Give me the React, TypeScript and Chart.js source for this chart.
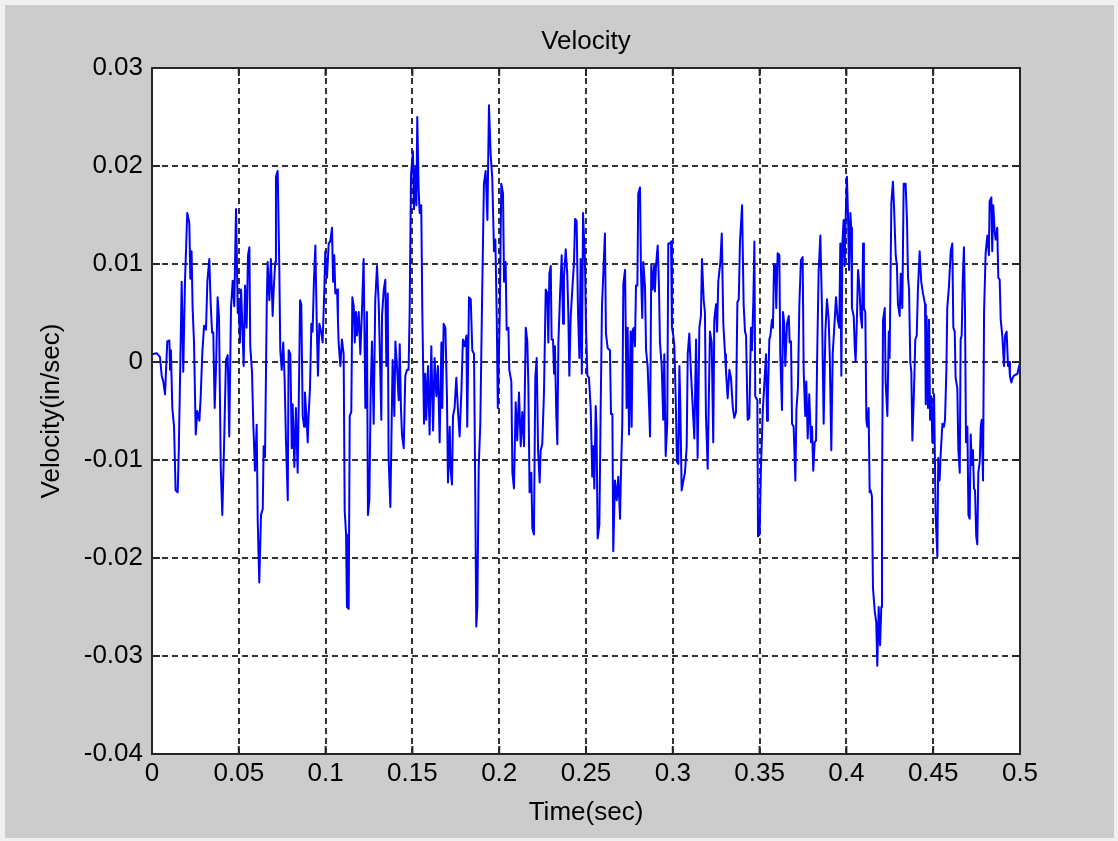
import React, { useEffect, useRef } from "react";
import { Chart, registerables } from "chart.js";

Chart.register(...registerables);

const FONT = "'Liberation Sans', Arial, Helvetica, sans-serif";

const chartTitle = "Velocity";
const xAxisTitle = "Time(sec)";
const yAxisTitle = "Velocity(in/sec)";

const xTickValues = [0, 0.05, 0.1, 0.15, 0.2, 0.25, 0.3, 0.35, 0.4, 0.45, 0.5];
const xTickLabels = ["0", "0.05", "0.1", "0.15", "0.2", "0.25", "0.3", "0.35", "0.4", "0.45", "0.5"];
const yTickValues = [-0.04, -0.03, -0.02, -0.01, 0, 0.01, 0.02, 0.03];
const yTickLabels = ["-0.04", "-0.03", "-0.02", "-0.01", "0", "0.01", "0.02", "0.03"];

// time (s) and velocity (in/sec), segment by segment
const timeA = [0, 0.0027, 0.0046, 0.0056, 0.0065, 0.0075, 0.0088, 0.0100, 0.0104, 0.0109, 0.0117, 0.0127, 0.0136, 0.0148, 0.0154, 0.0161, 0.0171, 0.0180, 0.0190, 0.0203, 0.0215, 0.0221, 0.0228, 0.0234, 0.0242, 0.0252, 0.0261, 0.0273, 0.0280, 0.0290, 0.0300, 0.0311, 0.0319, 0.0330, 0.0338, 0.0346, 0.0353, 0.0361, 0.0369, 0.0378, 0.0386, 0.0396, 0.0405, 0.0415, 0.0426, 0.0436, 0.0445, 0.0455, 0.0465, 0.0474, 0.0484, 0.0494];
const velA = [0.0008, 0.0009, 0.0005, -0.0014, -0.0020, -0.0033, 0.0021, 0.0022, -0.0008, 0.0012, -0.0047, -0.0066, -0.0131, -0.0133, -0.0092, -0.0023, 0.0082, -0.0010, 0.0082, 0.0152, 0.0142, 0.0085, 0.0113, 0.0055, 0.0020, -0.0074, -0.0050, -0.0060, -0.0037, 0.0010, 0.0037, 0.0033, 0.0082, 0.0105, 0.0060, 0.0030, 0.0030, -0.0047, -0.0005, 0.0066, 0.0046, -0.0107, -0.0156, -0.0086, 0.0002, 0.0007, -0.0076, 0.0055, 0.0083, 0.0057, 0.0156, 0.0050];

const timeB = [0.0499, 0.0507, 0.0513, 0.0522, 0.0528, 0.0536, 0.0545, 0.0553, 0.0561, 0.0566, 0.0576, 0.0584, 0.0593, 0.0603, 0.0609, 0.0618, 0.0628, 0.0638, 0.0643, 0.0651, 0.0661, 0.0666, 0.0676, 0.0685, 0.0695, 0.0701, 0.0710, 0.0714, 0.0724, 0.0733, 0.0739, 0.0747, 0.0756, 0.0764, 0.0772, 0.0782, 0.0787, 0.0797, 0.0805, 0.0810, 0.0820, 0.0829, 0.0839, 0.0845, 0.0853, 0.0860, 0.0868, 0.0876, 0.0881, 0.0891, 0.0897, 0.0902, 0.0910, 0.0918, 0.0925, 0.0933, 0.0941, 0.0949, 0.0956, 0.0964, 0.0974, 0.0983, 0.0993];
const velB = [0.0059, 0.0020, 0.0074, 0.0030, -0.0004, 0.0078, 0.0035, 0.0109, 0.0117, 0.0016, -0.0010, -0.0066, -0.0111, -0.0064, -0.0162, -0.0225, -0.0156, -0.0150, -0.0086, -0.0097, 0.0059, 0.0102, 0.0063, 0.0105, 0.0047, 0.0074, 0.0102, 0.0189, 0.0195, 0.0100, 0.0012, -0.0008, 0.0020, -0.0018, -0.0082, -0.0141, 0.0012, 0.0008, -0.0088, -0.0043, -0.0107, -0.0047, -0.0113, -0.0047, 0.0063, 0.0059, -0.0055, -0.0066, -0.0031, -0.0059, -0.0082, -0.0055, -0.0027, 0.0039, 0.0031, 0.0084, 0.0119, 0.0039, -0.0014, 0.0039, 0.0031, 0.0020, 0.0076];

const timeC = [0.0998, 0.1008, 0.1018, 0.1027, 0.1037, 0.1043, 0.1050, 0.1056, 0.1066, 0.1071, 0.1075, 0.1085, 0.1094, 0.1104, 0.1110, 0.1118, 0.1123, 0.1133, 0.1139, 0.1148, 0.1154, 0.1162, 0.1168, 0.1175, 0.1181, 0.1191, 0.1200, 0.1210, 0.1219, 0.1229, 0.1238, 0.1244, 0.1252, 0.1260, 0.1267, 0.1277, 0.1286, 0.1296, 0.1306, 0.1315, 0.1321, 0.1325, 0.1335, 0.1344, 0.1350, 0.1358, 0.1363, 0.1373, 0.1379, 0.1386, 0.1396, 0.1402, 0.1411, 0.1421, 0.1427, 0.1434, 0.1440, 0.1450, 0.1459, 0.1469, 0.1478, 0.1484, 0.1492];
const velC = [0.0113, 0.0086, 0.0121, 0.0123, 0.0137, 0.0082, 0.0109, 0.0070, 0.0074, 0.0043, 0.0020, -0.0004, 0.0023, 0.0008, -0.0152, -0.0176, -0.0250, -0.0252, -0.0055, -0.0051, 0.0066, 0.0057, 0.0020, 0.0051, 0.0027, 0.0051, 0.0008, 0.0055, 0.0105, -0.0047, 0.0051, -0.0156, -0.0141, -0.0027, 0.0021, -0.0063, 0.0063, 0.0098, 0.0059, -0.0010, -0.0059, 0.0047, 0.0074, 0.0084, -0.0004, 0.0070, -0.0098, -0.0148, -0.0080, 0.0002, -0.0055, 0.0021, -0.0004, -0.0039, 0.0018, -0.0047, -0.0074, -0.0088, -0.0014, -0.0008, -0.0008, 0.0049, 0.0191];

const timeD = [0.1503, 0.1509, 0.1517, 0.1523, 0.1528, 0.1536, 0.1542, 0.1551, 0.1557, 0.1567, 0.1574, 0.1580, 0.1590, 0.1599, 0.1609, 0.1619, 0.1628, 0.1638, 0.1647, 0.1657, 0.1667, 0.1672, 0.1680, 0.1690, 0.1699, 0.1705, 0.1715, 0.1720, 0.1728, 0.1734, 0.1743, 0.1753, 0.1763, 0.1772, 0.1782, 0.1791, 0.1801, 0.1811, 0.1816, 0.1826, 0.1836, 0.1845, 0.1855, 0.1862, 0.1868, 0.1874, 0.1882, 0.1891, 0.1901, 0.1912, 0.1922, 0.1932, 0.1941, 0.1951, 0.1960, 0.1970, 0.1978, 0.1986, 0.1992];
const velD = [0.0215, 0.0156, 0.0199, 0.0160, 0.0250, 0.0176, 0.0152, 0.0160, 0.0053, -0.0063, -0.0012, -0.0059, -0.0004, -0.0074, 0.0016, -0.0070, 0.0004, -0.0035, -0.0004, -0.0082, 0.0020, -0.0047, 0.0039, 0.0035, -0.0035, -0.0123, -0.0066, -0.0109, -0.0125, -0.0055, -0.0047, -0.0016, -0.0051, -0.0076, -0.0031, 0.0023, 0.0016, 0.0027, -0.0066, 0.0066, 0.0064, 0.0012, 0.0008, -0.0131, -0.0270, -0.0250, -0.0107, -0.0064, 0.0059, 0.0182, 0.0195, 0.0145, 0.0262, 0.0211, 0.0188, 0.0113, 0.0125, 0.0043, -0.0047];

const timeE = [0.2003, 0.2012, 0.2022, 0.2028, 0.2037, 0.2043, 0.2053, 0.2058, 0.2070, 0.2076, 0.2085, 0.2095, 0.2104, 0.2114, 0.2124, 0.2133, 0.2143, 0.2153, 0.2162, 0.2168, 0.2175, 0.2185, 0.2191, 0.2200, 0.2208, 0.2216, 0.2224, 0.2233, 0.2239, 0.2248, 0.2258, 0.2268, 0.2277, 0.2283, 0.2289, 0.2297, 0.2302, 0.2310, 0.2316, 0.2321, 0.2329, 0.2335, 0.2341, 0.2350, 0.2360, 0.2368, 0.2373, 0.2383, 0.2392, 0.2398, 0.2404, 0.2412, 0.2421, 0.2431, 0.2437, 0.2446, 0.2454, 0.2462, 0.2469, 0.2476, 0.2483];
const velE = [0.0047, 0.0182, 0.0172, 0.0082, 0.0102, 0.0033, 0.0035, -0.0008, -0.0020, -0.0113, -0.0129, -0.0041, -0.0080, -0.0031, -0.0086, -0.0051, -0.0086, 0.0035, 0.0021, -0.0023, -0.0133, -0.0113, -0.0170, -0.0176, -0.0016, 0.0004, -0.0090, -0.0123, -0.0090, -0.0084, -0.0031, 0.0074, 0.0070, 0.0020, 0.0090, 0.0098, 0.0023, 0.0023, -0.0012, 0.0016, -0.0055, -0.0084, 0.0020, 0.0066, 0.0109, 0.0039, 0.0086, 0.0115, 0.0090, 0.0051, -0.0014, 0.0047, 0.0074, 0.0102, 0.0146, 0.0144, 0.0051, 0.0004, 0.0105, -0.0012, 0.0152];

const timeF = [0.2494, 0.2500, 0.2508, 0.2517, 0.2527, 0.2536, 0.2542, 0.2548, 0.2556, 0.2561, 0.2567, 0.2577, 0.2584, 0.2592, 0.2600, 0.2609, 0.2615, 0.2625, 0.2638, 0.2644, 0.2652, 0.2657, 0.2667, 0.2677, 0.2686, 0.2696, 0.2702, 0.2709, 0.2715, 0.2725, 0.2734, 0.2740, 0.2748, 0.2757, 0.2763, 0.2769, 0.2776, 0.2782, 0.2788, 0.2796, 0.2801, 0.2811, 0.2817, 0.2824, 0.2830, 0.2840, 0.2846, 0.2855, 0.2863, 0.2869, 0.2876, 0.2884, 0.2892, 0.2897, 0.2903, 0.2913, 0.2920, 0.2926, 0.2936, 0.2945, 0.2951, 0.2959, 0.2968, 0.2974];
const velF = [0.0102, 0.0035, -0.0014, -0.0016, -0.0047, -0.0117, -0.0086, -0.0129, -0.0045, -0.0070, -0.0180, -0.0166, -0.0055, 0.0057, 0.0092, 0.0131, 0.0029, 0.0014, 0.0012, -0.0053, -0.0053, -0.0193, -0.0121, -0.0141, -0.0117, -0.0160, -0.0109, -0.0063, 0.0080, 0.0094, -0.0047, 0.0035, -0.0074, 0.0031, -0.0066, 0.0033, 0.0035, 0.0016, 0.0078, 0.0078, 0.0172, 0.0178, 0.0090, 0.0045, 0.0102, 0.0076, 0.0012, -0.0004, -0.0043, -0.0076, 0.0100, 0.0074, 0.0098, 0.0072, 0.0098, 0.0119, 0.0080, 0.0020, -0.0004, -0.0059, 0.0008, -0.0096, -0.0063, 0.0121];

const timeG = [0.2984, 0.2990, 0.2995, 0.3003, 0.3009, 0.3018, 0.3024, 0.3032, 0.3038, 0.3043, 0.3051, 0.3061, 0.3070, 0.3080, 0.3086, 0.3095, 0.3105, 0.3115, 0.3124, 0.3134, 0.3143, 0.3153, 0.3162, 0.3168, 0.3178, 0.3185, 0.3191, 0.3201, 0.3207, 0.3214, 0.3224, 0.3233, 0.3239, 0.3249, 0.3255, 0.3262, 0.3274, 0.3282, 0.3291, 0.3301, 0.3306, 0.3316, 0.3326, 0.3335, 0.3345, 0.3354, 0.3364, 0.3372, 0.3380, 0.3387, 0.3399, 0.3408, 0.3416, 0.3422, 0.3431, 0.3441, 0.3450, 0.3456, 0.3464, 0.3470, 0.3475];
const velG = [0.0121, 0.0123, 0.0035, 0.0027, 0.0016, -0.0047, -0.0102, -0.0104, -0.0004, -0.0041, -0.0131, -0.0121, -0.0113, -0.0086, 0.0008, 0.0029, -0.0012, -0.0047, -0.0078, 0.0023, -0.0098, 0.0035, 0.0047, 0.0105, 0.0063, 0.0051, -0.0055, -0.0109, -0.0043, 0.0031, 0.0020, -0.0082, 0.0043, 0.0059, 0.0031, 0.0082, 0.0102, 0.0131, 0.0039, 0.0008, -0.0008, -0.0037, -0.0008, -0.0016, -0.0045, -0.0057, -0.0051, 0.0061, 0.0064, 0.0123, 0.0160, 0.0059, 0.0031, 0.0027, -0.0059, -0.0057, 0.0035, 0.0012, 0.0063, 0.0123, -0.0035];

const timeH = [0.3487, 0.3491, 0.3500, 0.3508, 0.3518, 0.3527, 0.3537, 0.3543, 0.3548, 0.3556, 0.3562, 0.3571, 0.3577, 0.3583, 0.3591, 0.3596, 0.3604, 0.3614, 0.3619, 0.3629, 0.3635, 0.3642, 0.3648, 0.3658, 0.3668, 0.3673, 0.3681, 0.3687, 0.3696, 0.3706, 0.3712, 0.3721, 0.3729, 0.3738, 0.3748, 0.3754, 0.3763, 0.3769, 0.3777, 0.3786, 0.3796, 0.3802, 0.3809, 0.3817, 0.3825, 0.3832, 0.3840, 0.3850, 0.3859, 0.3869, 0.3879, 0.3888, 0.3898, 0.3904, 0.3913, 0.3921, 0.3930, 0.3940, 0.3950, 0.3959, 0.3965, 0.3971];
const velH = [-0.0039, -0.0178, -0.0176, -0.0107, -0.0051, -0.0023, 0.0008, -0.0060, -0.0035, 0.0023, 0.0027, 0.0043, 0.0035, 0.0100, 0.0098, 0.0055, 0.0111, 0.0109, 0.0008, -0.0049, 0.0051, 0.0039, -0.0004, 0.0039, 0.0047, 0.0020, 0.0021, -0.0063, -0.0066, -0.0121, -0.0049, -0.0025, 0.0059, 0.0104, 0.0107, -0.0010, -0.0055, -0.0020, -0.0078, -0.0033, -0.0082, -0.0066, -0.0111, -0.0082, -0.0080, 0.0010, 0.0092, 0.0129, 0.0057, -0.0063, 0.0031, 0.0064, 0.0043, 0.0008, -0.0090, 0.0008, 0.0035, 0.0066, 0.0043, 0.0035, 0.0121, -0.0014];

const timeI = [0.3977, 0.3984, 0.3990, 0.3996, 0.4003, 0.4009, 0.4015, 0.4023, 0.4028, 0.4032, 0.4042, 0.4048, 0.4053, 0.4061, 0.4067, 0.4076, 0.4082, 0.4090, 0.4096, 0.4101, 0.4109, 0.4115, 0.4120, 0.4128, 0.4134, 0.4140, 0.4147, 0.4153, 0.4163, 0.4172, 0.4178, 0.4186, 0.4194, 0.4201, 0.4205, 0.4211, 0.4221, 0.4226, 0.4236, 0.4244, 0.4249, 0.4259, 0.4268, 0.4274, 0.4284, 0.4291, 0.4297, 0.4307, 0.4313, 0.4322, 0.4330, 0.4341, 0.4349, 0.4355, 0.4361, 0.4368, 0.4374, 0.4380, 0.4389, 0.4397, 0.4405, 0.4412, 0.4422, 0.4431, 0.4441];
const velI = [0.0121, 0.0145, 0.0098, 0.0148, 0.0189, 0.0152, 0.0094, 0.0152, 0.0137, 0.0055, 0.0047, 0.0016, 0.0000, 0.0047, 0.0094, 0.0074, 0.0047, 0.0035, 0.0121, 0.0055, 0.0051, -0.0059, -0.0066, -0.0047, -0.0133, -0.0131, -0.0137, -0.0230, -0.0254, -0.0266, -0.0310, -0.0250, -0.0289, -0.0250, -0.0141, 0.0043, 0.0055, -0.0020, -0.0055, 0.0031, 0.0004, 0.0162, 0.0184, 0.0160, 0.0109, 0.0098, 0.0059, 0.0047, 0.0090, 0.0055, 0.0182, 0.0182, 0.0145, 0.0086, 0.0074, 0.0000, -0.0010, -0.0080, -0.0031, 0.0023, 0.0027, 0.0074, 0.0113, 0.0082, 0.0070];

const timeJ = [0.4453, 0.4457, 0.4462, 0.4470, 0.4476, 0.4482, 0.4489, 0.4495, 0.4505, 0.4514, 0.4524, 0.4529, 0.4537, 0.4543, 0.4553, 0.4562, 0.4568, 0.4576, 0.4581, 0.4591, 0.4601, 0.4610, 0.4616, 0.4624, 0.4629, 0.4639, 0.4645, 0.4653, 0.4658, 0.4664, 0.4670, 0.4677, 0.4683, 0.4689, 0.4697, 0.4703, 0.4710, 0.4716, 0.4722, 0.4729, 0.4735, 0.4741, 0.4748, 0.4754, 0.4760, 0.4768, 0.4774, 0.4779, 0.4787, 0.4793, 0.4802, 0.4812, 0.4821, 0.4825, 0.4835, 0.4840, 0.4846, 0.4854, 0.4860, 0.4869, 0.4875, 0.4883, 0.4889, 0.4898, 0.4908, 0.4914, 0.4923, 0.4931, 0.4937, 0.4942, 0.4950, 0.4958, 0.4965, 0.4985, 0.4998];
const velJ = [0.0059, -0.0043, 0.0047, -0.0047, 0.0043, -0.0059, -0.0035, -0.0082, -0.0033, -0.0156, -0.0199, -0.0098, -0.0121, -0.0094, -0.0063, -0.0066, -0.0059, -0.0008, 0.0055, 0.0078, 0.0113, 0.0121, 0.0035, 0.0031, -0.0016, -0.0027, -0.0090, -0.0113, 0.0023, 0.0027, 0.0082, 0.0117, 0.0055, -0.0082, -0.0066, -0.0156, -0.0160, -0.0074, -0.0105, -0.0090, -0.0129, -0.0131, -0.0178, -0.0186, -0.0113, -0.0102, -0.0066, -0.0059, -0.0121, 0.0051, 0.0111, 0.0129, 0.0109, 0.0164, 0.0168, 0.0113, 0.0160, 0.0133, 0.0125, 0.0137, 0.0086, 0.0084, 0.0043, 0.0027, -0.0004, 0.0027, 0.0031, -0.0004, 0.0000, -0.0014, -0.0021, -0.0016, -0.0014, -0.0012, -0.0002];

const timeSec = [...timeA, ...timeB, ...timeC, ...timeD, ...timeE, ...timeF, ...timeG, ...timeH, ...timeI, ...timeJ];
const velocity = [...velA, ...velB, ...velC, ...velD, ...velE, ...velF, ...velG, ...velH, ...velI, ...velJ];

const W = 1118;
const H = 841;

const matlabFrame = {
  id: "matlabFrame",
  beforeDraw(chart: any) {
    const { ctx, width, height, chartArea: a } = chart;
    ctx.save();
    ctx.fillStyle = "#f0f0f0";
    ctx.fillRect(0, 0, width, height);
    ctx.fillStyle = "#cccccc";
    ctx.fillRect(5, 5, width - 9, height - 8);
    ctx.fillStyle = "#ffffff";
    ctx.fillRect(a.left, a.top, a.right - a.left, a.bottom - a.top);
    ctx.restore();
  },
  afterDraw(chart: any) {
    const { ctx, chartArea: a, scales } = chart;
    const len = 8;
    ctx.save();
    ctx.setLineDash([]);
    ctx.strokeStyle = "#262626";
    ctx.lineWidth = 2;
    ctx.beginPath();
    scales.x.ticks.forEach((t: any) => {
      const px = scales.x.getPixelForValue(t.value);
      ctx.moveTo(px, a.bottom);
      ctx.lineTo(px, a.bottom - len);
      ctx.moveTo(px, a.top);
      ctx.lineTo(px, a.top + len);
    });
    scales.y.ticks.forEach((t: any) => {
      const py = scales.y.getPixelForValue(t.value);
      ctx.moveTo(a.left, py);
      ctx.lineTo(a.left + len, py);
      ctx.moveTo(a.right, py);
      ctx.lineTo(a.right - len, py);
    });
    ctx.stroke();
    ctx.strokeRect(a.left, a.top, a.right - a.left, a.bottom - a.top);
    ctx.restore();
  },
};

export default function App() {
  const canvasRef = useRef<HTMLCanvasElement | null>(null);

  useEffect(() => {
    const canvas = canvasRef.current;
    if (!canvas) return;
    const points = timeSec.map((t, i) => ({ x: t, y: velocity[i] }));
    const font = { family: FONT, size: 26, weight: "normal" as const };

    const chart = new Chart(canvas, {
      type: "line",
      data: {
        datasets: [
          {
            data: points,
            borderColor: "#0000ff",
            borderWidth: 2,
            pointRadius: 0,
            tension: 0,
            fill: false,
            borderJoinStyle: "round",
          },
        ],
      },
      options: {
        responsive: false,
        animation: false,
        devicePixelRatio: 1,
        events: [],
        layout: { padding: { left: 0, right: 98, top: 0, bottom: 0 } },
        plugins: {
          legend: { display: false },
          tooltip: { enabled: false },
          title: {
            display: true,
            text: chartTitle,
            fullSize: false,
            color: "#000000",
            font,
            padding: { top: 26.4, bottom: 10.4 },
          },
        },
        scales: {
          x: {
            type: "linear",
            min: 0,
            max: 0.5,
            afterBuildTicks: (s: any) => {
              s.ticks = xTickValues.map((v) => ({ value: v }));
            },
            afterFit: (s: any) => {
              s.height = 87;
            },
            ticks: {
              callback: (_v: any, i: number) => xTickLabels[i],
              color: "#000000",
              font,
              padding: 4,
              maxRotation: 0,
              autoSkip: false,
            },
            grid: { color: "#333333", lineWidth: 2, drawTicks: false },
            border: { display: false, dash: [6, 4] },
            title: {
              display: true,
              text: xAxisTitle,
              color: "#000000",
              font,
              padding: { top: 0, bottom: 13 },
            },
          },
          y: {
            type: "linear",
            min: -0.04,
            max: 0.03,
            afterBuildTicks: (s: any) => {
              s.ticks = yTickValues.map((v) => ({ value: v }));
            },
            afterFit: (s: any) => {
              s.width = 152;
            },
            ticks: {
              callback: (_v: any, i: number) => yTickLabels[i],
              color: "#000000",
              font,
              padding: 9,
              autoSkip: false,
            },
            grid: { color: "#333333", lineWidth: 2, drawTicks: false },
            border: { display: false, dash: [6, 4] },
            title: {
              display: true,
              text: yAxisTitle,
              color: "#000000",
              font,
              padding: { top: 36, bottom: 0 },
            },
          },
        },
      },
      plugins: [matlabFrame],
    } as any);

    return () => {
      chart.destroy();
    };
  }, []);

  return (
    <div style={{ position: "absolute", left: 0, top: 0, width: W, height: H }}>
      <canvas ref={canvasRef} width={W} height={H} style={{ display: "block" }} />
    </div>
  );
}
